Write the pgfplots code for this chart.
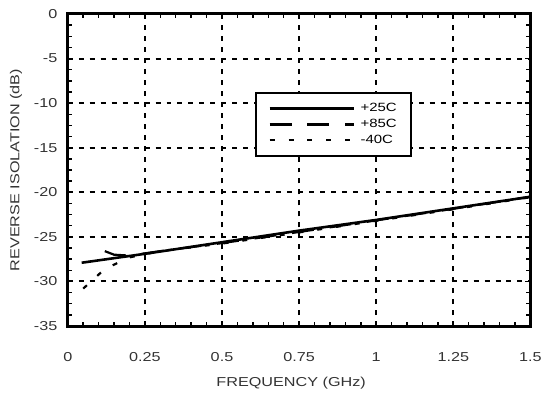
\documentclass[border=0pt]{standalone}
\usepackage{pgfplots}
\pgfplotsset{compat=1.18}
\usepackage{fontspec}
\setmainfont{Liberation Sans}[FakeStretch=1.25]
\begin{document}
\begin{tikzpicture}
\begin{axis}[
  scale only axis, width=464pt, height=313pt,
  xmin=0, xmax=1.5, ymin=-35, ymax=0,
  xtick={0,0.25,0.5,0.75,1,1.25,1.5},
  xticklabels={0,0.25,0.5,0.75,1,1.25,1.5},
  ytick={-35,-30,...,0},
  yticklabels={-35,-30,-25,-20,-15,-10,-5,0},
  minor x tick num=4, minor y tick num=3,
  tick align=inside, major tick length=5pt, minor tick length=4pt,
  every tick/.style={black, line width=1.5pt},
  axis line style={line width=3pt},
  grid=major, major grid style={black, line width=2pt, dash pattern=on 5pt off 6pt},
  tick label style={font=\fontsize{13}{15}\selectfont, text=black!80},
  xticklabel style={yshift=-23pt},
  yticklabel style={xshift=-7pt},
  xlabel={FREQUENCY (GHz)}, ylabel={REVERSE ISOLATION (dB)},
  label style={font=\fontsize{13}{15}\selectfont, text=black!80},
  xlabel style={yshift=-9pt, xshift=-8pt},
  ylabel style={yshift=5pt},
  /pgf/number format/assume math mode=true,
  legend style={at={(axis cs:0.608,-8.7)}, anchor=north west, draw=black, line width=2pt, fill=white,
    font=\fontsize{12}{14}\selectfont, inner xsep=12pt, inner ysep=9pt,
    nodes={text height=8pt, text depth=2pt}, row sep=2pt, column sep=3pt},
  legend cell align=left,
  legend image code/.code={\draw[#1] (0pt,0pt) -- (85pt,0pt);},
]
\addplot[black, line width=2.6pt] coordinates {(0.045,-27.9) (0.25,-26.9) (0.5,-25.6) (0.75,-24.3) (1,-23.1) (1.25,-21.8) (1.5,-20.5)};
\addlegendentry{+25C}
\addplot[black, line width=2.2pt, dash pattern=on 22pt off 16pt] coordinates {(0.12,-26.6) (0.15,-27.0) (0.2,-27.1) (0.3,-26.6) (0.5,-25.7) (0.75,-24.45) (1,-23.15) (1.25,-21.85) (1.5,-20.5)};
\addlegendentry{+85C}
\addplot[black, line width=2.2pt, dash pattern=on 5pt off 14pt] coordinates {(0.05,-30.8) (0.12,-28.6) (0.2,-27.3) (0.3,-26.6) (0.5,-25.75) (0.75,-24.5) (1,-23.2) (1.25,-21.9) (1.5,-20.55)};
\addlegendentry{-40C}
\end{axis}
\path (current axis.south west) ++(-68pt,-66pt) rectangle ++(545pt,393pt);
\end{tikzpicture}
\end{document}
